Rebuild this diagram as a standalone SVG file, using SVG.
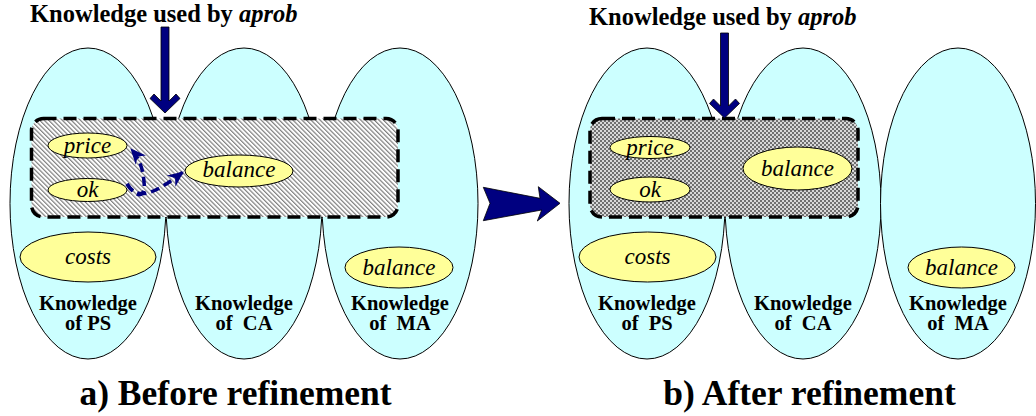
<svg xmlns="http://www.w3.org/2000/svg" width="1036" height="416" viewBox="0 0 1036 416" font-family="'Liberation Serif', 'DejaVu Serif', serif">
<defs>
<style>
.big{fill:#ccffff;stroke:#000;stroke-width:1}
.sm{fill:#ffff99;stroke:#000;stroke-width:1}
.it{font-style:italic;font-size:23px;text-anchor:middle;fill:#000}
.lbl{font-weight:bold;font-size:20.5px;text-anchor:middle;white-space:pre;fill:#000}
.title{font-weight:bold;font-size:24.5px;fill:#000}
.cap{font-weight:bold;font-size:35.5px;text-anchor:middle;fill:#000}
.box{stroke:#000;stroke-width:3.5;stroke-dasharray:13 7}
.arr{fill:#000080;stroke:#000;stroke-width:0.8}
.conn{fill:none;stroke:#000080;stroke-width:3.5;stroke-dasharray:9 5}
</style>
<pattern id="hatch" patternUnits="userSpaceOnUse" width="3.2" height="3.2" patternTransform="rotate(-45)">
<rect width="3.2" height="3.2" fill="#ffffff"/>
<rect width="1.2" height="3.2" fill="#808080"/>
</pattern>
<pattern id="cross" patternUnits="userSpaceOnUse" width="4" height="4">
<rect width="4" height="4" fill="#d8d8d8"/>
<rect width="2" height="2" fill="#707070"/>
<rect x="2" y="2" width="2" height="2" fill="#707070"/>
</pattern>
<marker id="ah" viewBox="0 0 16 14" refX="15" refY="7" markerWidth="16" markerHeight="14" markerUnits="userSpaceOnUse" orient="auto">
<path d="M0,0 L16,7 L0,14 L5,7 Z" fill="#000080"/>
</marker>
</defs>
<rect width="1036" height="416" fill="#ffffff"/>

<!-- Left panel -->
<g id="left-PS"><ellipse class="big" cx="88" cy="203.5" rx="78" ry="155.5"/></g>
<g id="left-CA"><ellipse class="big" cx="244" cy="203.5" rx="78" ry="155.5"/></g>
<g id="left-MA"><ellipse class="big" cx="400" cy="203.5" rx="78" ry="155.5"/></g>
<g id="left-box"><rect class="box" x="31.5" y="118.5" width="366.5" height="98.5" rx="12" fill="url(#hatch)"/></g>
<g id="left-price"><ellipse class="sm" cx="87.5" cy="145.5" rx="39.5" ry="12.5"/><text class="it" x="87.5" y="153">price</text></g>
<g id="left-ok"><ellipse class="sm" cx="87.5" cy="190" rx="39.5" ry="11.5"/><text class="it" x="87.5" y="197">ok</text></g>
<g id="left-balance"><ellipse class="sm" cx="239" cy="171" rx="54" ry="16"/><text class="it" x="239" y="177">balance</text></g>
<g id="left-costs"><ellipse class="sm" cx="88" cy="257" rx="68" ry="25"/><text class="it" x="88" y="264">costs</text></g>
<g id="left-mabal"><ellipse class="sm" cx="399" cy="267.5" rx="54" ry="20.5"/><text class="it" x="399" y="274.5">balance</text></g>
<g id="left-labels">
<text class="lbl" x="88" y="310">Knowledge</text><text class="lbl" x="88" y="330">of PS</text>
<text class="lbl" x="244" y="310">Knowledge</text><text class="lbl" x="244" y="330">of  CA</text>
<text class="lbl" x="400" y="310">Knowledge</text><text class="lbl" x="400" y="330">of  MA</text>
</g>
<g id="left-title"><text class="title" x="30" y="22">Knowledge used by <tspan font-style="italic">aprob</tspan></text></g>
<g id="left-down-arrow"><polygon class="arr" points="161,27 169,27 169,101 176,94 180,98.5 165,113 150,98.5 154,94 161,101"/></g>
<text class="cap" x="235.5" y="405">a) Before refinement</text>

<g id="connectors">
<path class="conn" marker-end="url(#ah)" d="M127,184 C137,199 146,198 144,182 C143,168 139,158 131,149"/>
<path class="conn" marker-end="url(#ah)" d="M127,184 C137,200 152,196 183,172"/>
<polygon class="arr" points="483.3,187.3 540,198.3 538.3,186.7 560,203.3 537.3,221 541.7,210 483.3,220.7 490,203.3"/>
</g>

<!-- Right panel -->
<g id="right-PS"><ellipse class="big" cx="647" cy="203.5" rx="78" ry="155.5"/></g>
<g id="right-CA"><ellipse class="big" cx="803" cy="203.5" rx="78" ry="155.5"/></g>
<g id="right-MA"><ellipse class="big" cx="958" cy="203.5" rx="77.5" ry="155.5"/></g>
<g id="right-box"><rect class="box" x="590" y="118.5" width="268" height="98.5" rx="12" fill="url(#cross)"/></g>
<g id="right-price"><ellipse class="sm" cx="650" cy="147.5" rx="40" ry="11"/><text class="it" x="650" y="155">price</text></g>
<g id="right-ok"><ellipse class="sm" cx="650" cy="189.5" rx="40" ry="12.5"/><text class="it" x="650" y="197">ok</text></g>
<g id="right-balance"><ellipse class="sm" cx="797.5" cy="168.5" rx="54.5" ry="21.5"/><text class="it" x="797.5" y="175.5">balance</text></g>
<g id="right-costs"><ellipse class="sm" cx="647.5" cy="257" rx="68.5" ry="25"/><text class="it" x="647.5" y="264">costs</text></g>
<g id="right-mabal"><ellipse class="sm" cx="961.5" cy="267.5" rx="53.5" ry="20.5"/><text class="it" x="961.5" y="274.5">balance</text></g>
<g id="right-labels">
<text class="lbl" x="647" y="310">Knowledge</text><text class="lbl" x="647" y="330">of  PS</text>
<text class="lbl" x="803" y="310">Knowledge</text><text class="lbl" x="803" y="330">of  CA</text>
<text class="lbl" x="958" y="310">Knowledge</text><text class="lbl" x="958" y="330">of  MA</text>
</g>
<g id="right-title"><text class="title" x="589" y="25">Knowledge used by <tspan font-style="italic">aprob</tspan></text></g>
<g id="right-down-arrow"><polygon class="arr" points="720.5,33 728.5,33 728.5,106 735.5,99 739.5,103.5 724.5,118 709.5,103.5 713.5,99 720.5,106"/></g>
<text class="cap" x="809.5" y="405">b) After refinement</text>
</svg>
